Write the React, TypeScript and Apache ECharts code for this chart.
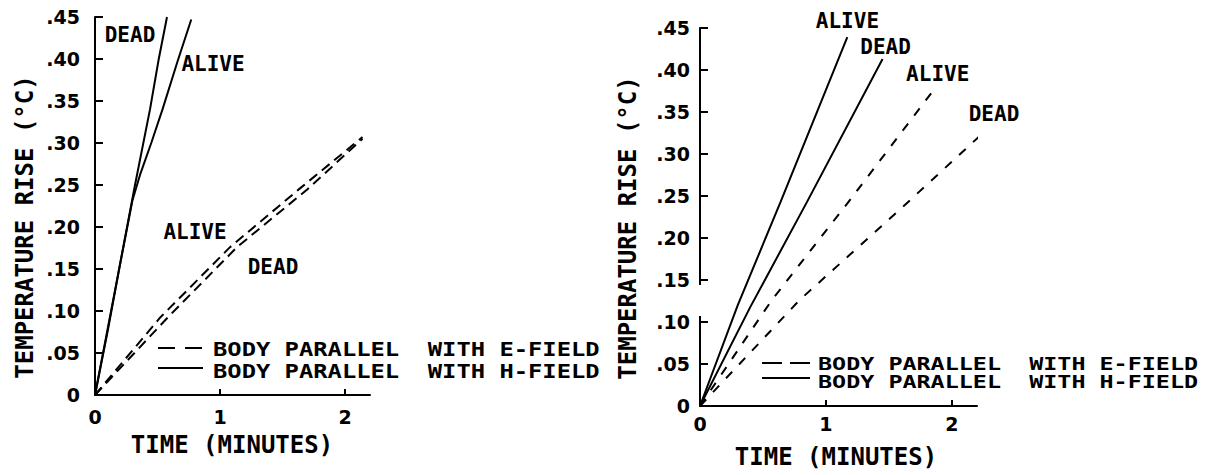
import React, { useEffect, useRef } from 'react';
import * as echarts from 'echarts';

// ---------- data (time in minutes, temperature rise in °C) ----------
const xTickValues = [0, 1, 2];
const xTickMarks = [1, 2];

// Left panel
const leftSolidDead = [[0, 0], [0.18, 0.14], [0.32, 0.25], [0.44, 0.34], [0.51, 0.4], [0.576, 0.45]];
const leftSolidAlive = [[0, 0], [0.1, 0.075], [0.2, 0.155], [0.3, 0.232], [0.36, 0.262], [0.45, 0.3], [0.54, 0.34], [0.66, 0.397], [0.77, 0.447]];
const leftDashAlive = [[0, 0], [0.52, 0.092], [1.08, 0.176], [1.64, 0.246], [2.14, 0.307]];
const leftDashDead = [[0, 0], [0.58, 0.092], [1.136, 0.176], [1.7, 0.245], [2.14, 0.305]];

// Right panel
const rightSolidAlive = [[0, 0], [0.3, 0.12], [0.64, 0.243], [1.17, 0.439]];
const rightSolidDead = [[0, 0], [0.4, 0.118], [0.85, 0.243], [1.45, 0.413]];
const rightDashAlive = [[0, 0], [0.57, 0.126], [1.19, 0.245], [1.88, 0.381]];
const rightDashDead = [[0, 0], [0.79, 0.126], [1.61, 0.237], [2.32, 0.335]];

// Curve labels [text, time, temp]
const leftLabels: [string, number, number][] = [
  ['DEAD', 0.28, 0.4286],
  ['ALIVE', 0.944, 0.394],
  ['ALIVE', 0.8, 0.194],
  ['DEAD', 1.424, 0.152],
];
const rightLabels: [string, number, number][] = [
  ['ALIVE', 1.171, 0.458],
  ['DEAD', 1.474, 0.427],
  ['ALIVE', 1.888, 0.395],
  ['DEAD', 2.335, 0.348],
];

const E_NAME = 'BODY PARALLEL  WITH E-FIELD';
const H_NAME = 'BODY PARALLEL  WITH H-FIELD';
const X_TITLE = 'TIME (MINUTES)';
const Y_TITLE = 'TEMPERATURE RISE (°C)';

const MONO = '"DejaVu Sans Mono", monospace';
const SANS = '"DejaVu Sans", sans-serif';

export default function App() {
  const ref = useRef<HTMLDivElement>(null);
  useEffect(() => {
    const chart = echarts.init(ref.current!, null, { renderer: 'svg' });
    const fmtY = (v: number) => (v === 0 ? '0' : v.toFixed(2).replace(/^0/, ''));

    const xAxis = (idx: number, labelMargin: number) => ({
      type: 'value',
      gridIndex: idx,
      min: 0,
      max: 2.2,
      axisLine: { show: true, lineStyle: { color: '#000', width: 2 } },
      axisTick: { show: true, inside: true, length: 6, customValues: xTickMarks, lineStyle: { color: '#000', width: 2 } },
      axisLabel: { customValues: xTickValues, margin: labelMargin, color: '#000', fontFamily: SANS, fontWeight: 'bold', fontSize: 19 },
      splitLine: { show: false },
    });
    const yAxis = (idx: number, labelMargin: number) => ({
      type: 'value',
      gridIndex: idx,
      min: 0,
      max: 0.45,
      interval: 0.05,
      axisLine: { show: true, lineStyle: { color: '#000', width: 2 } },
      axisTick: { show: true, inside: true, length: 8, lineStyle: { color: '#000', width: 2 } },
      axisLabel: { margin: labelMargin, color: '#000', fontFamily: SANS, fontWeight: 'bold', fontSize: 19, formatter: fmtY },
      splitLine: { show: false },
    });

    const line = (name: string, data: number[][], idx: number, dash: number[] | null) => ({
      type: 'line',
      name,
      data,
      xAxisIndex: idx,
      yAxisIndex: idx,
      symbol: 'none',
      showSymbol: false,
      clip: false,
      silent: true,
      lineStyle: { color: '#000', width: 2, type: dash ? dash : 'solid' },
      itemStyle: { color: '#000' },
    });
    const labels = (items: [string, number, number][], idx: number) => ({
      type: 'scatter',
      name: 'labels' + idx,
      xAxisIndex: idx,
      yAxisIndex: idx,
      clip: false,
      silent: true,
      symbolSize: 0,
      itemStyle: { color: '#000' },
      data: items.map(([t, x, y]) => ({ name: t, value: [x, y] })),
      label: {
        show: true,
        position: 'inside',
        formatter: (p: any) => p.name,
        color: '#000',
        opacity: 1,
        textBorderWidth: 0,
        textBorderColor: 'transparent',
        fontFamily: MONO,
        fontWeight: 'bold',
        fontSize: 21,
      },
    });

    const txt = (text: string, x: number, y: number, size: number, opts: any = {}) => ({
      type: 'text',
      x,
      y,
      rotation: opts.rotation || 0,
      scaleX: opts.scaleX || 1,
      silent: true,
      style: {
        text,
        fill: '#000',
        fontFamily: MONO,
        fontWeight: 'bold',
        fontSize: size,
        textAlign: opts.align || 'center',
        textVerticalAlign: 'middle',
      },
    });
    const sample = (x1: number, x2: number, y: number, dash: number[] | null) => ({
      type: 'line',
      silent: true,
      shape: { x1, y1: y, x2, y2: y },
      style: { stroke: '#000', lineWidth: 2, lineDash: dash || undefined },
    });

    chart.setOption({
      animation: false,
      backgroundColor: '#fff',
      grid: [
        { left: 95, top: 17, width: 275, height: 378 },
        { left: 700, top: 28, width: 277, height: 378 },
      ],
      xAxis: [xAxis(0, 12), xAxis(1, 8)],
      yAxis: [yAxis(0, 15), yAxis(1, 10)],
      graphic: [
        // break in the right-hand temperature axis, as in the original figure
        { type: 'rect', silent: true, z: 100, shape: { x: 696, y: 285, width: 8, height: 31 }, style: { fill: '#fff' } },
        // axis titles
        txt(Y_TITLE, 25, 227, 24, { rotation: Math.PI / 2 }),
        txt(Y_TITLE, 628, 228, 24, { rotation: Math.PI / 2 }),
        txt(X_TITLE, 232, 445, 24),
        txt(X_TITLE, 836, 457, 24),
        // left key
        sample(158, 203, 348, [17, 10]),
        sample(158, 203, 368, null),
        txt(E_NAME, 213, 349, 20, { align: 'left', scaleX: 1.19 }),
        txt(H_NAME, 213, 371, 20, { align: 'left', scaleX: 1.19 }),
        // right key
        sample(762, 810, 363, [20, 8]),
        sample(762, 810, 378, null),
        txt(E_NAME, 818, 364, 18, { align: 'left', scaleX: 1.3 }),
        txt(H_NAME, 818, 382, 18, { align: 'left', scaleX: 1.3 }),
      ],
      series: [
        line(E_NAME, leftDashAlive, 0, [10, 6]),
        line(E_NAME, leftDashDead, 0, [10, 6]),
        line(H_NAME, leftSolidDead, 0, null),
        line(H_NAME, leftSolidAlive, 0, null),
        line(E_NAME, rightDashAlive, 1, [9, 10]),
        line(E_NAME, rightDashDead, 1, [9, 10]),
        line(H_NAME, rightSolidAlive, 1, null),
        line(H_NAME, rightSolidDead, 1, null),
        labels(leftLabels, 0),
        labels(rightLabels, 1),
      ],
    });
    return () => chart.dispose();
  }, []);
  return <div ref={ref} style={{ position: 'fixed', left: 0, top: 0, width: 1210, height: 475, background: '#fff' }} />;
}
